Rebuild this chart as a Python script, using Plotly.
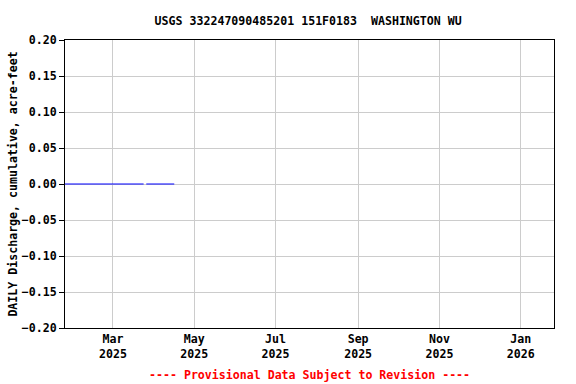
import plotly.graph_objects as go

dates = ["2025-01-24", "2025-03-24", "2025-03-25", "2025-03-26", "2025-04-16"]
values = [0.0, 0.0, None, 0.0, 0.0]

tick_vals = ["2025-03-01", "2025-05-01", "2025-07-01", "2025-09-01", "2025-11-01", "2026-01-01"]
tick_text = ["Mar<br>2025", "May<br>2025", "Jul<br>2025", "Sep<br>2025", "Nov<br>2025", "Jan<br>2026"]
y_ticks = [-0.20, -0.15, -0.10, -0.05, 0.0, 0.05, 0.10, 0.15, 0.20]

title = "USGS 332247090485201 151F0183  WASHINGTON WU"
y_title = "DAILY Discharge, cumulative, acre-feet"
note = "---- Provisional Data Subject to Revision ----"

FONT = "DejaVu Sans Mono"
FS = 11.6

fig = go.Figure()
fig.add_trace(go.Scatter(x=dates, y=values, mode="lines",
                         line=dict(color="#0000ff", width=1),
                         connectgaps=False, showlegend=False))

fig.update_layout(
    width=576, height=384,
    margin=dict(l=65, r=22, t=40, b=56),
    paper_bgcolor="white", plot_bgcolor="white",
    font=dict(family=FONT, size=FS, color="black", weight="bold"),
    title=dict(text=title, x=0.535, xanchor="center", y=0.945, yanchor="middle",
               font=dict(family=FONT, size=FS, color="black", weight="bold")),
    xaxis=dict(type="date", range=["2025-01-24", "2026-01-26"],
               tickvals=tick_vals, ticktext=tick_text, tickangle=0,
               showgrid=True, gridcolor="#cccccc", gridwidth=1,
               showline=True, linecolor="black", linewidth=1, mirror=True,
               ticks="", zeroline=False, automargin=False,
               tickfont=dict(family=FONT, size=FS, color="black", weight="bold")),
    yaxis=dict(range=[-0.20, 0.20], tickvals=y_ticks, tickformat=".2f",
               showgrid=True, gridcolor="#cccccc", gridwidth=1,
               showline=True, linecolor="black", linewidth=1, mirror=True,
               ticks="outside", ticklen=5, tickcolor="black", zeroline=False,
               automargin=False,
               title=dict(text=y_title, standoff=1,
                          font=dict(family=FONT, size=FS, color="black", weight="bold")),
               tickfont=dict(family=FONT, size=FS, color="black", weight="bold")),
    annotations=[dict(text=note, x=0.5, xref="paper", y=-0.163, yref="paper",
                      yanchor="middle", xanchor="center", showarrow=False,
                      font=dict(family=FONT, size=FS, color="red", weight="bold"))],
)
fig.write_html("out.html")
